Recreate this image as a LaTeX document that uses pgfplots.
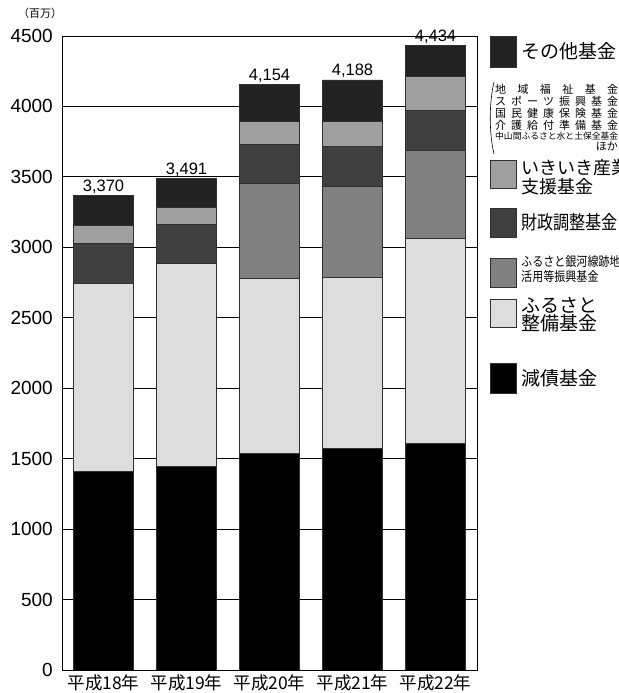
\documentclass[border=0pt]{standalone}
\usepackage{fontspec}
\setmainfont{Liberation Sans}
\newfontfamily\jp{Noto Sans CJK JP}
\usepackage{graphicx}
\usepackage{pgfplots}
\usepackage{pgfplotstable}
\pgfplotsset{compat=1.18}
\definecolor{cGen}{HTML}{000000}
\definecolor{cFuru}{HTML}{DDDDDD}
\definecolor{cGinga}{HTML}{808080}
\definecolor{cZai}{HTML}{404040}
\definecolor{cIki}{HTML}{A0A0A0}
\definecolor{cOther}{HTML}{222222}
\definecolor{cEdge}{HTML}{303030}
\pgfplotstableread{
x gen furu ginga zai iki other tot
0 1407 1336 0 282 133 212 3370
1 1443 1440 0 282 116 210 3491
2 1540 1239 673 279 160 263 4154
3 1573 1213 647 281 182 292 4188
4 1611 1455 620 286 239 223 4434
}\data
\newcommand{\fs}[1]{\fontsize{#1bp}{#1bp}\selectfont}
\newcommand{\legbox}[3]{\draw[fill=#1,draw=cEdge,line width=0.8bp] (490bp,#2bp) rectangle (516bp,#3bp);}
\begin{document}
\begin{tikzpicture}
\begin{axis}[
  at={(62bp,23bp)}, anchor=south west,
  scale only axis, width=415bp, height=634bp,
  xmin=-0.5, xmax=4.5, ymin=0, ymax=4500,
  clip mode=individual,
  ybar stacked, bar width=0.72,
  axis line style={draw=black, line width=0.9bp},
  xtick={0,1,2,3,4},
  xticklabels={平成18年,平成19年,平成20年,平成21年,平成22年},
  x tick label style={font=\jp\fs{17.5}, inner sep=0pt, yshift=-5bp},
  xtick style={draw=none},
  extra x ticks={0.5,1.5,2.5,3.5},
  extra x tick labels={},
  extra x tick style={tick style={draw=black, line width=0.8bp}},
  xtick pos=bottom, ytick pos=left,
  ytick={0,500,...,4500},
  y tick label style={font=\fs{19}, inner sep=0pt, xshift=-9bp},
  /pgf/number format/assume math mode=true,
  yticklabel={\pgfmathprintnumber[1000 sep={}]{\tick}},
  tick align=inside, major tick length=14bp,
  ytick style={draw=none},
  ymajorgrids, grid style={draw=black, line width=0.8bp},
  every axis plot/.append style={draw=cEdge, line width=0.7bp},
]
\addplot[fill=cGen] table[x=x,y=gen]{\data};
\addplot[fill=cFuru] table[x=x,y=furu]{\data};
\addplot[fill=cGinga] table[x=x,y=ginga]{\data};
\addplot[fill=cZai] table[x=x,y=zai]{\data};
\addplot[fill=cIki] table[x=x,y=iki]{\data};
\addplot[fill=cOther] table[x=x,y=other]{\data};
\pgfplotsinvokeforeach{0,...,4}{%
  \pgfplotstablegetelem{#1}{tot}\of\data
  \edef\temp{\noexpand\node[anchor=base, font=\noexpand\fs{16.5}, inner sep=0pt, yshift=4bp]
    at (axis cs:#1,\pgfplotsretval) {\noexpand\pgfmathprintnumber[1000 sep={,}]{\pgfplotsretval}};}%
  \temp
}
\end{axis}
% unit label
\node[font=\jp\fs{11}] at (40bp,680bp) {（百万）};
% legend
\legbox{cOther}{626}{657}
\node[anchor=west, font=\jp\fs{19}, inner sep=0pt] at (521bp,642bp) {その他基金};
\draw[line width=0.6bp] (494bp,611bp) .. controls (489bp,590bp) and (489bp,560bp) .. (494bp,539bp);
\node[anchor=west, font=\jp\fs{11}, inner sep=0pt] at (495bp,604bp) {\hbox to 123bp{地\hfill 域\hfill 福\hfill 祉\hfill 基\hfill 金}};
\node[anchor=west, font=\jp\fs{11}, inner sep=0pt] at (495bp,592bp) {\hbox to 123bp{ス\hfill ポ\hfill ー\hfill ツ\hfill 振\hfill 興\hfill 基\hfill 金}};
\node[anchor=west, font=\jp\fs{11}, inner sep=0pt] at (495bp,580bp) {\hbox to 123bp{国\hfill 民\hfill 健\hfill 康\hfill 保\hfill 険\hfill 基\hfill 金}};
\node[anchor=west, font=\jp\fs{11}, inner sep=0pt] at (495bp,568bp) {\hbox to 123bp{介\hfill 護\hfill 給\hfill 付\hfill 準\hfill 備\hfill 基\hfill 金}};
\node[anchor=west, inner sep=0pt] at (495bp,557bp) {\resizebox{123bp}{!}{\jp\fs{10}中山間ふるさと水と土保全基金}};
\node[anchor=east, font=\jp\fs{11}, inner sep=0pt] at (618bp,547bp) {ほか};
\legbox{cIki}{505}{533}
\node[anchor=west, font=\jp\fs{18}, inner sep=0pt] at (521bp,525bp) {いきいき産業};
\node[anchor=west, font=\jp\fs{18}, inner sep=0pt] at (521bp,506bp) {支援基金};
\legbox{cZai}{456}{485}
\node[anchor=west, inner sep=0pt] at (521bp,471bp) {\scalebox{0.85}[1]{\jp\fs{19}財政調整基金}};
\legbox{cGinga}{406}{435}
\node[anchor=west, inner sep=0pt] at (521bp,431.5bp) {\scalebox{0.85}[1]{\jp\fs{13}ふるさと銀河線跡地}};
\node[anchor=west, inner sep=0pt] at (521bp,416.5bp) {\scalebox{0.85}[1]{\jp\fs{13}活用等振興基金}};
\legbox{cFuru}{366}{394}
\node[anchor=west, font=\jp\fs{19}, inner sep=0pt] at (521bp,388bp) {ふるさと};
\node[anchor=west, font=\jp\fs{19}, inner sep=0pt] at (521bp,369.5bp) {整備基金};
\legbox{cGen}{300}{330}
\node[anchor=west, font=\jp\fs{19}, inner sep=0pt] at (521bp,315bp) {減債基金};
\pgfresetboundingbox
\path[use as bounding box] (0,0) rectangle (619bp,693bp);
\end{tikzpicture}
\end{document}
